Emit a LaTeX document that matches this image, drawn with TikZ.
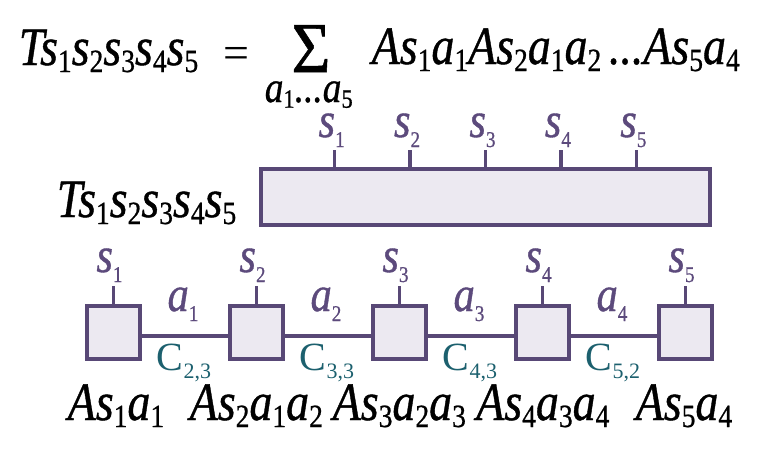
\documentclass[tikz,border=0pt]{standalone}
\usepackage{fontspec}
\newfontfamily\tms{Liberation Serif}[FakeBold=0.8]
\newfontfamily\tmsc{Liberation Serif}
\usepackage{graphicx}
\usetikzlibrary{calc}
\definecolor{edgec}{RGB}{88,72,118}
\definecolor{boxfill}{RGB}{236,233,241}
\definecolor{labc}{RGB}{92,74,124}
\definecolor{cteal}{RGB}{28,96,110}
\newcommand\bd[1]{\raisebox{-0.13em}{\scalebox{0.6}{\upshape #1}}}
\newcommand\ld[1]{\raisebox{-0.2em}{\scalebox{0.45}{\upshape #1}}}
\newcommand\cd[1]{\raisebox{-0.2em}{\scalebox{0.55}{#1}}}
\newcommand\nrw[1]{\scalebox{0.85}[1]{#1}}
\tikzset{
  bigtxt/.style={font=\tms\fontsize{54}{60}\selectfont\itshape, inner sep=0pt, anchor=base west},
  lab/.style={font=\tms\fontsize{50}{54}\selectfont\itshape, text=labc, inner sep=0pt, anchor=base},
  clab/.style={font=\tmsc\fontsize{40}{42}\selectfont, text=cteal, inner sep=0pt, anchor=base},
  sq/.style={draw=edgec, fill=boxfill, minimum size=53.5pt, inner sep=0pt},
  wire/.style={draw=edgec, line width=3.6pt},
}
\begin{document}
\begin{tikzpicture}[x=1pt, y=-1pt, line width=3.6pt]
\useasboundingbox (0,0) rectangle (775,456);
% top equation
\node[bigtxt] (eqT) at (17,65) {\nrw{Ts\bd1s\bd2s\bd3s\bd4s\bd5}};
\node[font=\tmsc\fontsize{46}{50}\selectfont, inner sep=0pt, anchor=base] (eq) at (236.5,68) {=};
\node[inner sep=0pt, anchor=south] (sum) at (311,74) {\resizebox{39pt}{47pt}{\tms Σ}};
\node[bigtxt, font=\tms\fontsize{44}{48}\selectfont\itshape] (lim) at (263,102) {\nrw{a\bd1...a\bd5}};
\node[bigtxt] (rhs) at (370,64) {\nrw{As\bd1a\bd1As\bd2a\bd1a\bd2\,...As\bd5a\bd4}};
% middle tensor
\node[bigtxt] (midT) at (55,217) {\nrw{Ts\bd1s\bd2s\bd3s\bd4s\bd5}};
\node[draw=edgec, fill=boxfill, minimum width=449pt, minimum height=56pt, inner sep=0pt] (T) at (485.5,197) {};
\foreach \i in {1,...,5}{
  \draw[wire] ($(T.north west)!{\i/6}!(T.north east)$) coordinate (t\i) -- ++(0,-17) coordinate (tt\i);
  \node[lab] (ts\i) at ([xshift=-3pt]t\i |- 0,137) {\nrw{s\ld{\i}}};
}
% bottom MPS chain
\foreach \i/\x in {1/113.5,2/256.5,3/399.5,4/542.5,5/685.5}{
  \node[sq] (b\i) at (\x,332.5) {};
  \draw[wire] (b\i.north) -- ++(0,-18);
  \node[lab] (bs\i) at (\x-4,272) {\nrw{s\ld{\i}}};
}
\foreach \i/\j/\c in {1/2/{2,3},2/3/{3,3},3/4/{4,3},4/5/{5,2}}{
  \draw[wire] ([yshift=-3.5pt]b\i.east) -- ([yshift=-3.5pt]b\j.west);
  \node[lab] (ba\i) at ($(b\i.east)!0.5!(b\j.west) + (-2,-21.5)$) {\nrw{a\ld{\i}}};
  \node[clab] (c\i) at ($(b\i.east)!0.5!(b\j.west) + (-1,37.5)$) {C\cd{\c}};
}
\node[bigtxt] (A1) at (66,420) {\nrw{As\bd1a\bd1}};
\node[bigtxt] (A2) at (188,420) {\nrw{As\bd2a\bd1a\bd2}};
\node[bigtxt] (A3) at (331,420) {\nrw{As\bd3a\bd2a\bd3}};
\node[bigtxt] (A4) at (474.5,420) {\nrw{As\bd4a\bd3a\bd4}};
\node[bigtxt] (A5) at (634,420) {\nrw{As\bd5a\bd4}};
\end{tikzpicture}
\end{document}
